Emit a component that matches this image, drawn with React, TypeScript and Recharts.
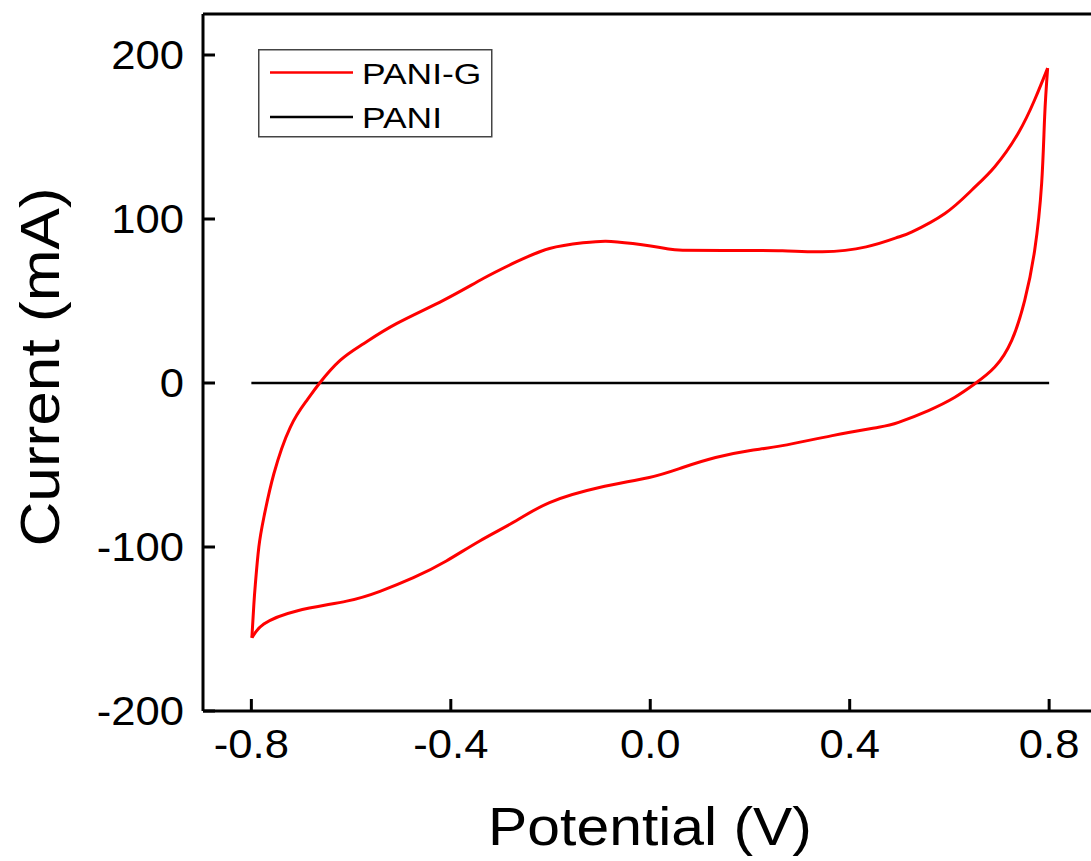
import { Legend, Line, LineChart, ReferenceLine, XAxis, YAxis } from "recharts";

// PANI-G cyclic voltammogram
// anodic sweep (-0.8 -> 0.8 V)
const anodicPotential = [
  -0.799, -0.795, -0.792, -0.785, -0.775, -0.755, -0.722, -0.689, -0.663, -0.622,
  -0.575, -0.509, -0.415, -0.335, -0.269, -0.202, -0.135, -0.089, -0.035, 0.031,
  0.065, 0.165, 0.265, 0.345, 0.433, 0.498, 0.525, 0.591, 0.645, 0.691,
  0.738, 0.771, 0.797,
];
const anodicCurrent = [
  -155.4, -135, -122.6, -100, -82, -55.5, -27, -10.7, 0, 13.8,
  24, 36.2, 50.4, 63.7, 73.8, 82, 85.5, 86.5, 85, 82,
  81, 80.8, 80.6, 80, 83, 89, 92.2, 103.4, 117.7, 131.9,
  152.3, 172.7, 192,
];
// cathodic sweep (0.8 -> -0.8 V)
const cathodicPotential = [
  0.797, 0.791, 0.785, 0.771, 0.751, 0.725, 0.691, 0.651, 0.611, 0.558, 0.498,
  0.458, 0.365, 0.265, 0.198, 0.131, 0.065, -0.002, -0.102, -0.202, -0.269,
  -0.342, -0.409, -0.475, -0.542, -0.609, -0.709, -0.775, -0.799,
];
const cathodicCurrent = [
  192, 162.5, 121.8, 81, 50.4, 26, 9.7, -0.5, -8.7, -16.8, -24,
  -27, -32.1, -38.2, -41.3, -45.4, -51.5, -57.6, -63.7, -72.9, -84,
  -96.3, -108.5, -118.7, -127, -133, -139, -147, -155.4,
];

// PANI shows essentially no current on this scale
const paniPotential = [-0.8, -0.4, 0, 0.4, 0.8];
const paniCurrent = [0, 0, 0, 0, 0];

const xTicks = [-0.8, -0.4, 0, 0.4, 0.8];
const yTicks = [-200, -100, 0, 100, 200];

const toPoints = (xs: number[], ys: number[]) => xs.map((x, i) => ({ x, y: ys[i] }));
const anodicData = toPoints(anodicPotential, anodicCurrent);
const cathodicData = toPoints(cathodicPotential, cathodicCurrent);
const paniData = toPoints(paniPotential, paniCurrent);

const FONT = '"Liberation Sans", Arial, sans-serif';
const STRETCH = 1.09;
const CHART_W = 1104;
const CHART_H = 861;
const Y_AXIS_W = 203;
const X_AXIS_H = 150;
const PLOT_BOTTOM = CHART_H - X_AXIS_H;
const TICK_LEN = 12;
const AXIS_W = 3;
const X_DOMAIN: [number, number] = [-0.897, 0.9];
const Y_DOMAIN: [number, number] = [-200, 225];

function XTick(props: any) {
  const { x, payload } = props;
  return (
    <text
      transform={`translate(${x},${PLOT_BOTTOM + 47}) scale(${STRETCH},1)`}
      textAnchor="middle"
      fontFamily={FONT}
      fontSize={40}
      fill="#000"
    >
      {Number(payload.value).toFixed(1)}
    </text>
  );
}

function YTick(props: any) {
  const { y, payload } = props;
  return (
    <text
      transform={`translate(${Y_AXIS_W - 19},${y + 14}) scale(${STRETCH},1)`}
      textAnchor="end"
      fontFamily={FONT}
      fontSize={40}
      fill="#000"
    >
      {payload.value}
    </text>
  );
}

// inward tick marks, drawn at the foot of a full-height reference line
function XTickMark(p: any) {
  const bottom = Math.max(p.y1, p.y2);
  return <line x1={p.x1} y1={bottom} x2={p.x1} y2={bottom - TICK_LEN} stroke="#000" strokeWidth={AXIS_W} />;
}

function YTickMark(p: any) {
  const left = Math.min(p.x1, p.x2);
  return <line x1={left} y1={p.y1} x2={left + TICK_LEN} y2={p.y1} stroke="#000" strokeWidth={AXIS_W} />;
}

function XTitle() {
  return (
    <text
      transform={`translate(650,${PLOT_BOTTOM + 134}) scale(${STRETCH},1)`}
      textAnchor="middle"
      fontFamily={FONT}
      fontSize={54}
      fill="#000"
    >
      Potential (V)
    </text>
  );
}

function YTitle() {
  return (
    <text
      transform={`translate(59,367) rotate(-90) scale(1.11,1)`}
      textAnchor="middle"
      fontFamily={FONT}
      fontSize={56}
      fill="#000"
    >
      Current (mA)
    </text>
  );
}

function LegendBox() {
  return (
    <svg width={236} height={90} style={{ display: "block" }}>
      <rect x={0.75} y={0.75} width={233} height={87} fill="#fff" stroke="#444" strokeWidth={1.5} />
      <line x1={12} y1={23.5} x2={95} y2={23.5} stroke="#ff0000" strokeWidth={2.5} />
      <text transform="translate(104,35) scale(1.18,1)" fontFamily={FONT} fontSize={30} fill="#000">
        PANI-G
      </text>
      <line x1={12} y1={68} x2={95} y2={68} stroke="#000" strokeWidth={2.5} />
      <text transform="translate(104,79) scale(1.18,1)" fontFamily={FONT} fontSize={30} fill="#000">
        PANI
      </text>
    </svg>
  );
}

export default function App() {
  return (
    <div
      style={{
        position: "absolute",
        left: 0,
        top: 0,
        width: 1091,
        height: 861,
        overflow: "hidden",
        background: "#fff",
      }}
    >
      <LineChart width={CHART_W} height={CHART_H} margin={{ top: 14, right: 5, bottom: 0, left: 0 }}>
        <XAxis
          dataKey="x"
          type="number"
          domain={X_DOMAIN}
          allowDataOverflow
          ticks={xTicks}
          height={X_AXIS_H}
          tickLine={false}
          axisLine={{ stroke: "#000", strokeWidth: AXIS_W }}
          tick={<XTick />}
          label={<XTitle />}
        />
        <YAxis
          dataKey="y"
          type="number"
          domain={Y_DOMAIN}
          allowDataOverflow
          ticks={yTicks}
          width={Y_AXIS_W}
          tickLine={false}
          axisLine={{ stroke: "#000", strokeWidth: AXIS_W }}
          tick={<YTick />}
          label={<YTitle />}
        />
        <ReferenceLine y={225} stroke="#000" strokeWidth={AXIS_W} />
        <ReferenceLine x={0.9} stroke="#000" strokeWidth={AXIS_W} />
        {xTicks.map((t) => (
          <ReferenceLine key={`xt${t}`} x={t} shape={XTickMark} />
        ))}
        {yTicks.map((t) => (
          <ReferenceLine key={`yt${t}`} y={t} shape={YTickMark} />
        ))}
        <Legend
          layout="vertical"
          align="center"
          verticalAlign="middle"
          wrapperStyle={{ left: 258, top: 49, width: 236, height: 90 }}
          content={<LegendBox />}
        />
        <Line data={paniData} dataKey="y" name="PANI" type="linear" stroke="#000" strokeWidth={2.5} dot={false} isAnimationActive={false} />
        <Line data={anodicData} dataKey="y" name="PANI-G" type="natural" stroke="#ff0000" strokeWidth={3} dot={false} isAnimationActive={false} />
        <Line data={cathodicData} dataKey="y" name="PANI-G cathodic" legendType="none" type="natural" stroke="#ff0000" strokeWidth={3} dot={false} isAnimationActive={false} />
      </LineChart>
    </div>
  );
}
